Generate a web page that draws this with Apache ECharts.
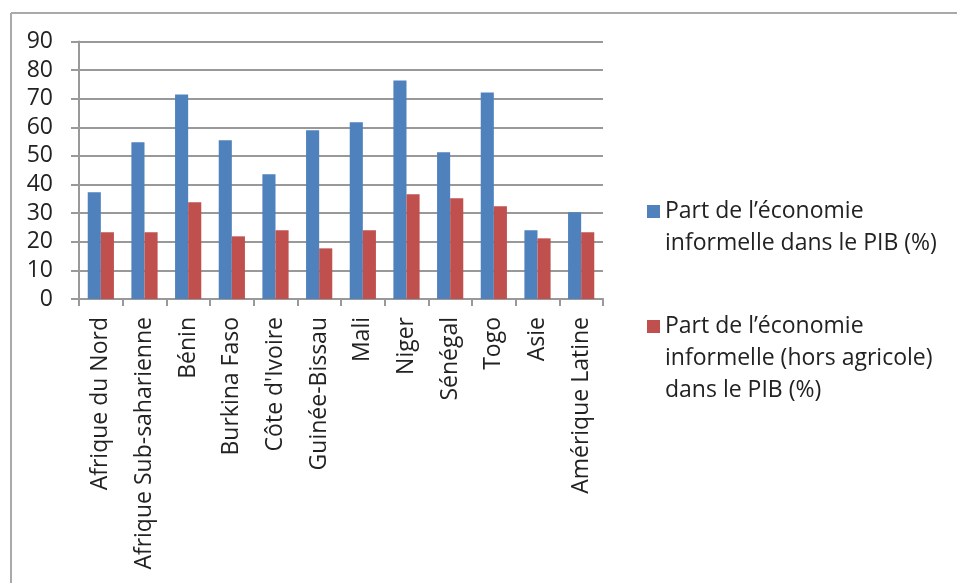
<!DOCTYPE html>
<html><head><meta charset="utf-8">
<script src="https://cdn.jsdelivr.net/npm/echarts@6/dist/echarts.min.js"></script>
<style>html,body{margin:0;padding:0;background:#fff}#c{width:957px;height:583px}</style>
</head><body><div id="c"></div>
<script>
const categories = ["Afrique du Nord","Afrique Sub-saharienne","Bénin","Burkina Faso","Côte d'Ivoire","Guinée-Bissau","Mali","Niger","Sénégal","Togo","Asie","Amérique Latine"];
const seriesNames = ["Part de l\u2019économie\ninformelle dans le PIB (%)","Part de l\u2019économie\ninformelle (hors agricole)\ndans le PIB (%)"];
const informelPIB = [37.3,54.8,71.5,55.5,43.6,59.0,61.8,76.4,51.3,72.2,24.0,30.3];
const informelHorsAgri = [23.3,23.3,33.8,21.9,24.0,17.7,24.0,36.6,35.2,32.4,21.2,23.3];
const yTicks = {min:0,max:90,interval:10};

const FONT = 'Open Sans';
const FS = 23;
const chart = echarts.init(document.getElementById('c'), null, {renderer:'canvas'});
chart.setOption({
  animation:false,
  backgroundColor:'#fff',
  textStyle:{fontFamily:FONT},
  graphic:[
    {type:'line',shape:{x1:11,y1:13,x2:957,y2:13},style:{stroke:'#a9a9a9',lineWidth:2},silent:true},
    {type:'line',shape:{x1:11,y1:13,x2:11,y2:583},style:{stroke:'#a9a9a9',lineWidth:2},silent:true}
  ],
  grid:{left:79,top:41.5,width:524,height:257.5,containLabel:false},
  legend:[{
    orient:'vertical',left:647,top:163.5,padding:0,itemWidth:13,itemHeight:13,icon:'rect',
    data:[{name:seriesNames[0]}],
    formatter:function(n){return '\n'+n;},
    textStyle:{fontFamily:FONT,fontSize:FS,color:'#222',lineHeight:32}
  },{
    orient:'vertical',left:647,top:246.5,padding:0,itemWidth:13,itemHeight:13,icon:'rect',
    data:[{name:seriesNames[1]}],
    formatter:function(n){return '\n\n'+n;},
    textStyle:{fontFamily:FONT,fontSize:FS,color:'#222',lineHeight:32}
  }],
  xAxis:{type:'category',data:categories,boundaryGap:true,
    axisLine:{lineStyle:{color:'#999',width:2}},
    axisTick:{show:true,length:7,alignWithLabel:false,lineStyle:{color:'#999',width:2}},
    axisLabel:{rotate:90,interval:0,margin:18,fontFamily:FONT,fontSize:FS,color:'#222'}
  },
  yAxis:{type:'value',min:yTicks.min,max:yTicks.max,interval:yTicks.interval,
    axisLine:{show:true,lineStyle:{color:'#999',width:2}},
    axisTick:{show:true,length:8,lineStyle:{color:'#999',width:2}},
    splitLine:{show:true,lineStyle:{color:'#999',width:2}},
    axisLabel:{margin:26,fontFamily:FONT,fontSize:FS,color:'#222'}
  },
  series:[
    {name:seriesNames[0],type:'bar',data:informelPIB,barGap:'0%',barCategoryGap:'40%',itemStyle:{color:'#4F81BD'}},
    {name:seriesNames[1],type:'bar',data:informelHorsAgri,barGap:'0%',barCategoryGap:'40%',itemStyle:{color:'#C0504D'}}
  ]
});
</script></body></html>
